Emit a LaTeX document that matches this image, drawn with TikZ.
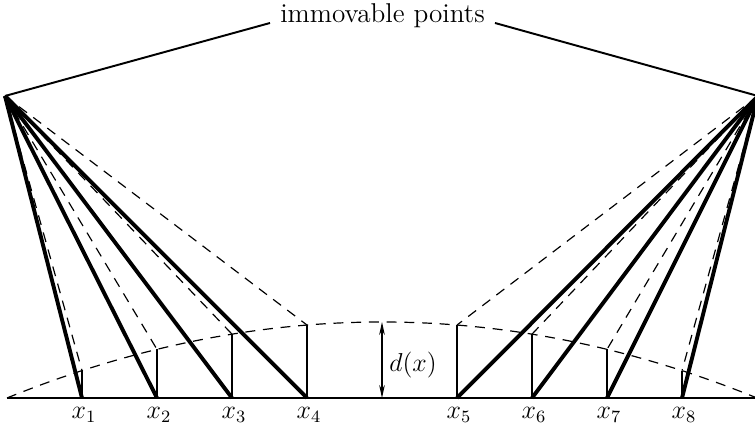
\documentclass[tikz,border=0pt]{standalone}
\usepackage{fontspec}
\usetikzlibrary{arrows.meta}
\begin{document}
\begin{tikzpicture}[x=0.463pt,y=-0.463pt,
  thickline/.style={line width=1.8pt},
  thinline/.style={line width=0.5pt},
  dashline/.style={line width=0.55pt,dash pattern=on 4.6pt off 3.6pt},
  lbl/.style={font=\large,inner sep=0pt},
  toplbl/.style={font=\fontsize{12.6}{15}\selectfont,inner sep=0pt}]
\useasboundingbox (0,0) rectangle (755,429);
% apexes
\coordinate (L) at (5,96);
\coordinate (R) at (758,96);
% baseline ends
\coordinate (b0) at (7,398);
\coordinate (b9) at (757,398);
% bottom and top points
\foreach \i/\xx in {1/82,2/157,3/232,4/307,5/457,6/532,7/607,8/682}{
  \pgfmathsetmacro{\u}{(\xx-382)/375}
  \pgfmathsetmacro{\yy}{398-76*(1-\u*\u)}
  \coordinate (b\i) at (\xx,398);
  \coordinate (t\i) at (\xx,\yy);
}
% dashed arc d(x)
\draw[dashline] (b0) .. controls (257,296.67) and (507,296.67) .. (b9);
% baseline
\draw[line width=0.9pt] (b0) -- (b9);
% verticals
\foreach \i in {1,...,8}{\draw[thinline] (b\i) -- (t\i);}
% dashed lines from apexes
\foreach \i in {1,...,4}{\draw[dashline] (L) -- (t\i);}
\foreach \i in {5,...,8}{\draw[dashline] (R) -- (t\i);}
% thick lines
\foreach \i in {1,...,4}{\draw[thickline] (L) -- (b\i);}
\foreach \i in {5,...,8}{\draw[thickline] (R) -- (b\i);}
% labels
\foreach \i/\xx in {1/84,2/159,3/234,4/309,5/459,6/534,7/609,8/684}{
  \node[lbl,anchor=base] (x\i) at (\xx,419) {$x_{\i}$};
}
% d(x) arrow
\coordinate (dtop) at (382,322);
\coordinate (dbot) at (382,398);
\draw[thinline,{Stealth[length=6pt,width=2.6pt]}-{Stealth[length=6pt,width=2.6pt]}] (dbot) -- (dtop);
\node[lbl,anchor=base west] (dl) at (389,372) {$d(x)$};
% immovable points
\node[toplbl,anchor=base] (imm) at (382.5,23) {immovable points};
\coordinate (la) at (270,23);
\coordinate (ra) at (495,23);
\draw[line width=0.9pt] (L) -- (la);
\draw[line width=0.9pt] (ra) -- (R);
\end{tikzpicture}
\end{document}
